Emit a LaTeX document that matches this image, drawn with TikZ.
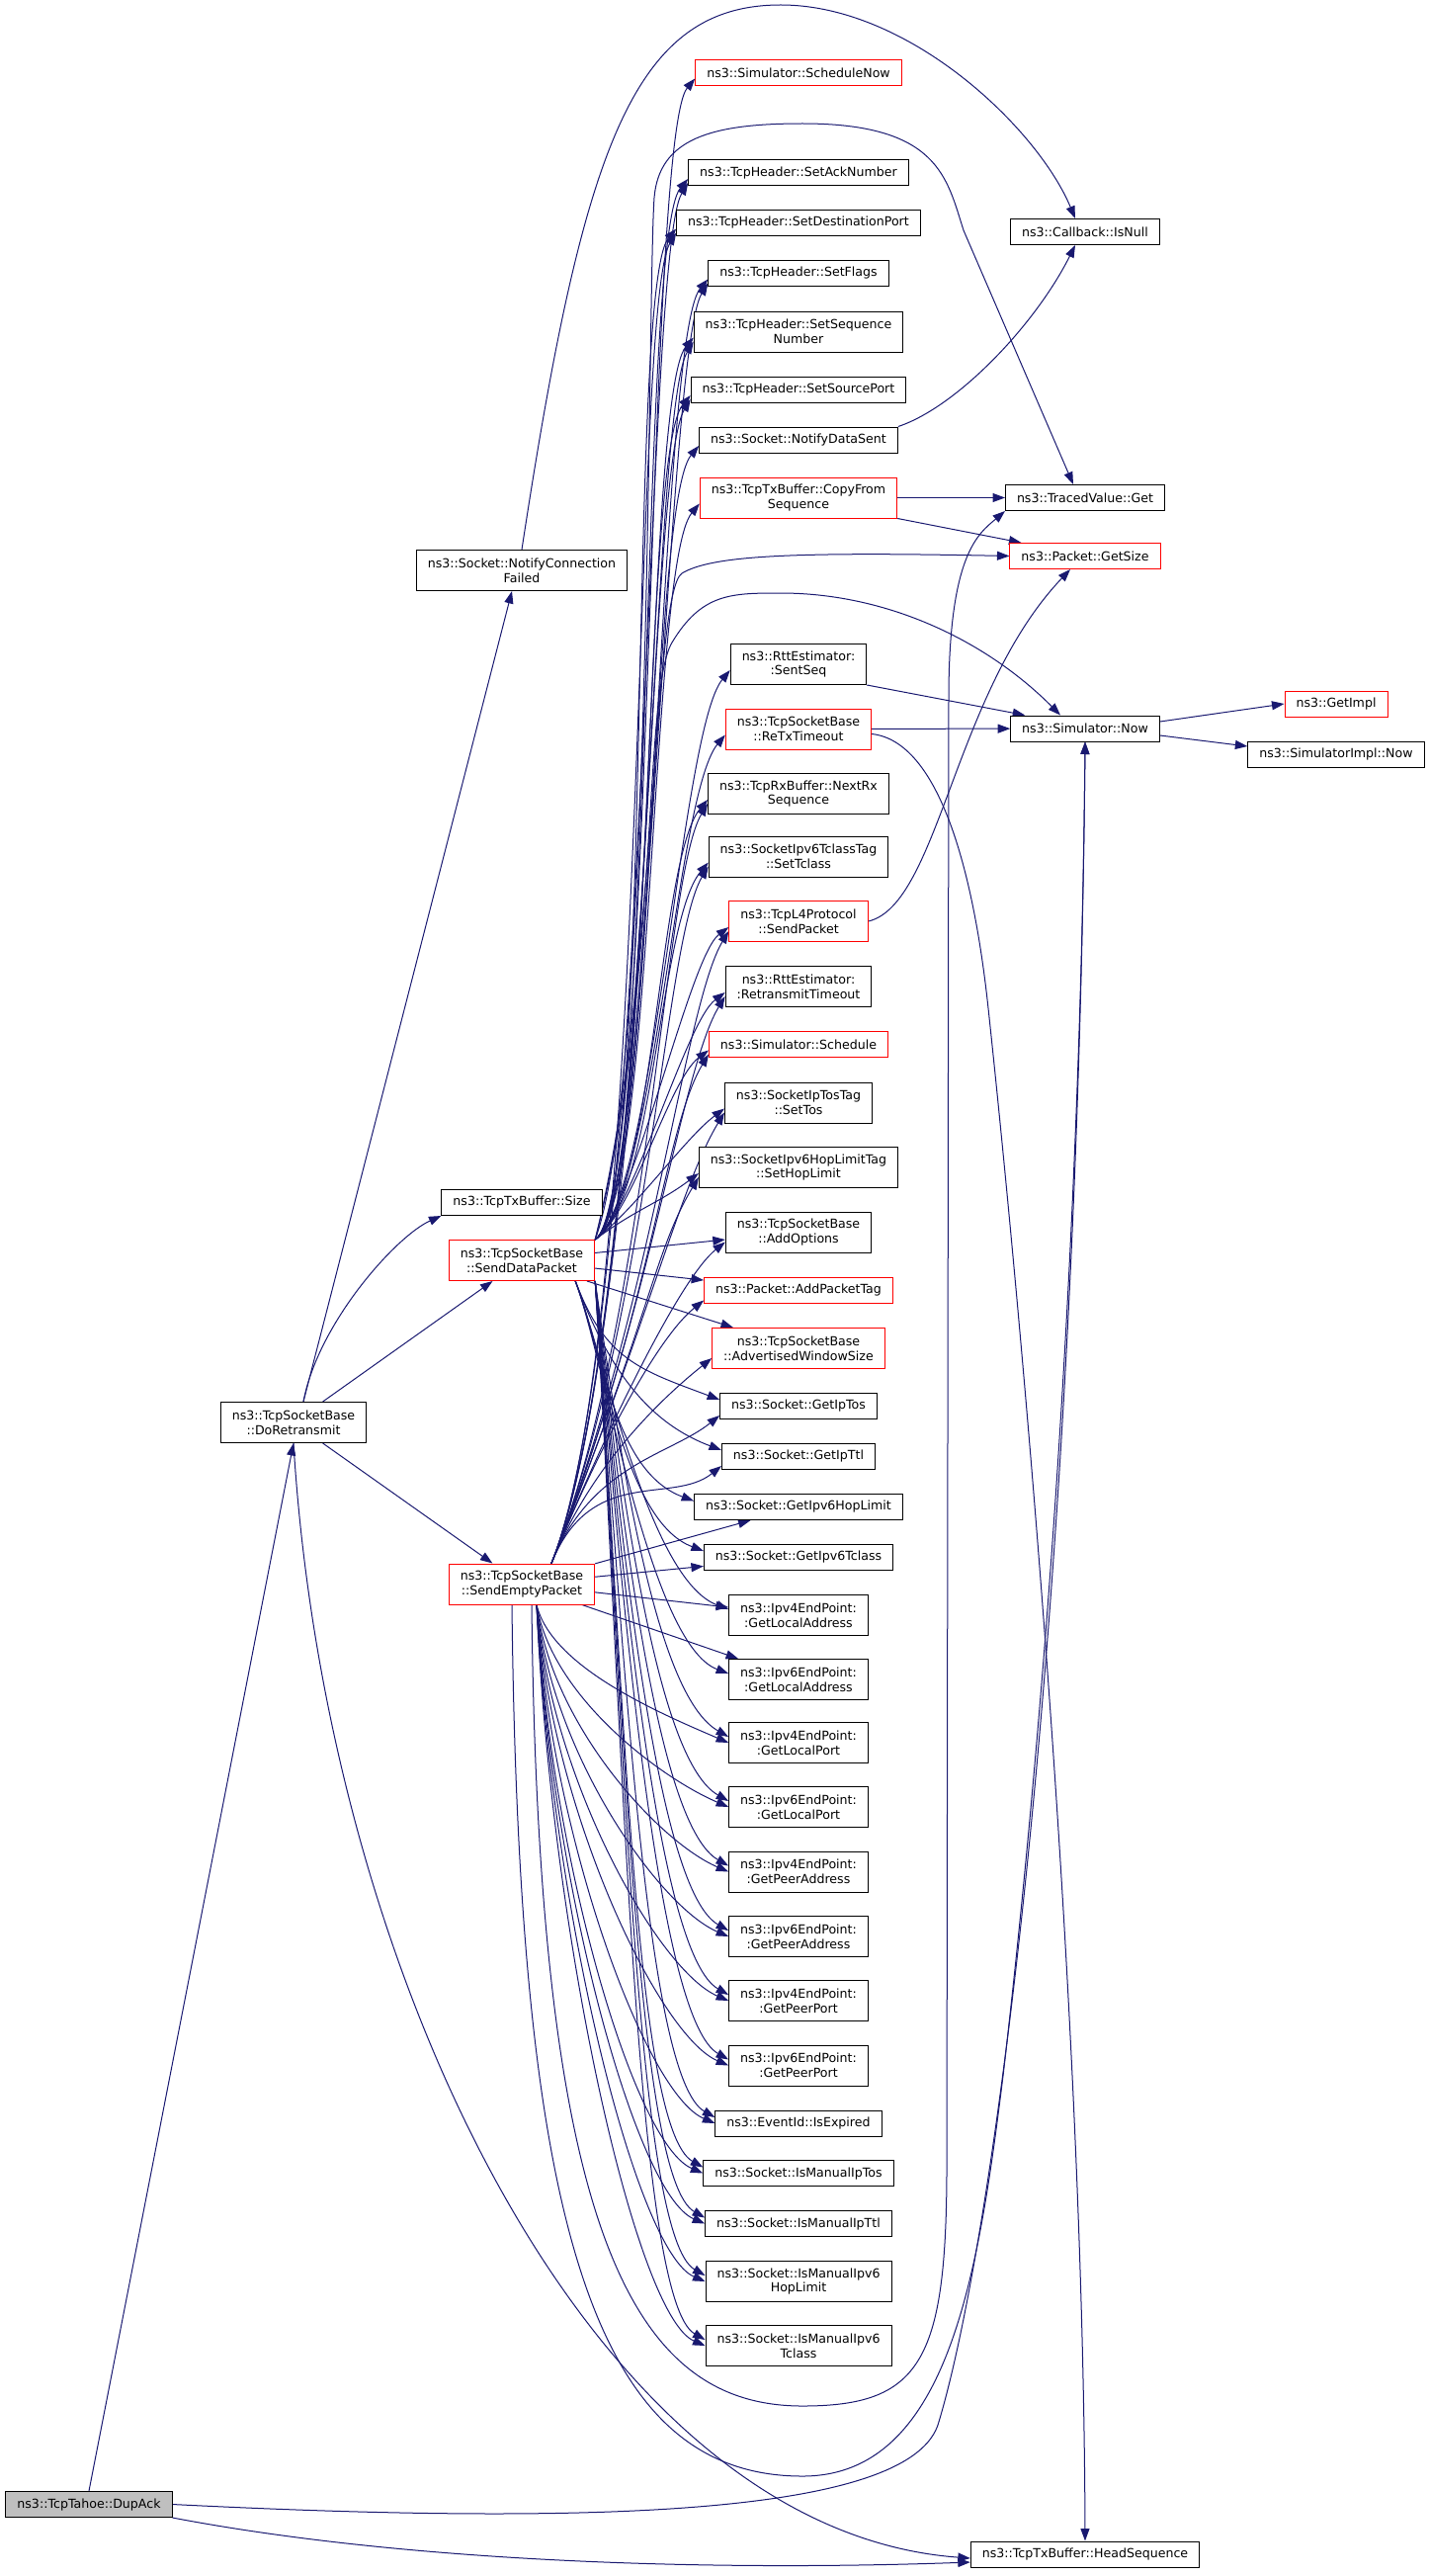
\documentclass[tikz,border=0pt]{standalone}
\usepackage{fontspec}
\setmainfont{DejaVu Sans}
\usetikzlibrary{arrows.meta,backgrounds}
\definecolor{edgeblue}{RGB}{25,25,112}
\definecolor{rootgray}{RGB}{191,191,191}
\tikzstyle{fn} = [rectangle, draw=black, fill=white, line width=1pt,
                 inner xsep=11.5pt, inner ysep=2pt, minimum height=26pt,
                 align=center, font=\fontsize{12.6}{14.7}\selectfont]
\tikzstyle{fnred} = [fn, draw=red]
\tikzstyle{fn2} = [fn, minimum height=41pt]
\tikzstyle{fnred2} = [fnred, minimum height=41pt]
\tikzstyle{root} = [fn, fill=rootgray]
\tikzstyle{call} = [draw=edgeblue, line width=1pt, -{Triangle[length=12.5pt,width=9pt]}]

\begin{document}
\begin{tikzpicture}[x=1pt,y=1pt]
\useasboundingbox (0,0) rectangle (1445,-2606);

\node [root] at (90,-2533.5) (dupack) {ns3::TcpTahoe::DupAck};
\node [fn2] at (297,-1439) (doretx) {ns3::TcpSocketBase\\::DoRetransmit};
\node [fn2] at (528,-577) (ncf) {ns3::Socket::NotifyConnection\\Failed};
\node [fn] at (528,-1216.5) (size) {ns3::TcpTxBuffer::Size};
\node [fnred2] at (528,-1275) (sdp) {ns3::TcpSocketBase\\::SendDataPacket};
\node [fnred2] at (528,-1602.5) (sep) {ns3::TcpSocketBase\\::SendEmptyPacket};

	%callees
\foreach \n/\y/\s/\txt in {schednow/73.5/fnred/{ns3::Simulator::ScheduleNow},
  setack/175/fn/{ns3::TcpHeader::SetAckNumber},
  setdport/225.5/fn/{ns3::TcpHeader::SetDestinationPort},
  setflags/276.5/fn/{ns3::TcpHeader::SetFlags},
  setseq/335.5/fn2/{ns3::TcpHeader::SetSequence\\Number},
  setsport/394/fn/{ns3::TcpHeader::SetSourcePort},
  notifysent/445/fn/{ns3::Socket::NotifyDataSent},
  copyfrom/503.5/fnred2/{ns3::TcpTxBuffer::CopyFrom\\Sequence},
  sentseq/672/fn2/{ns3::RttEstimator:\\:SentSeq},
  retxto/737.5/fnred2/{ns3::TcpSocketBase\\::ReTxTimeout},
  nextrx/803/fn2/{ns3::TcpRxBuffer::NextRx\\Sequence},
  settclass/866.5/fn2/{ns3::SocketIpv6TclassTag\\::SetTclass},
  sendpkt/932/fnred2/{ns3::TcpL4Protocol\\::SendPacket},
  rtxtimeout/998/fn2/{ns3::RttEstimator:\\:RetransmitTimeout},
  sched/1056.5/fnred/{ns3::Simulator::Schedule},
  settos/1115.5/fn2/{ns3::SocketIpTosTag\\::SetTos},
  sethop/1181/fn2/{ns3::SocketIpv6HopLimitTag\\::SetHopLimit},
  addopt/1246.5/fn2/{ns3::TcpSocketBase\\::AddOptions},
  addtag/1305.5/fnred/{ns3::Packet::AddPacketTag},
  advwin/1364/fnred2/{ns3::TcpSocketBase\\::AdvertisedWindowSize},
  getiptos/1422/fn/{ns3::Socket::GetIpTos},
  getipttl/1473/fn/{ns3::Socket::GetIpTtl},
  gethop/1524.5/fn/{ns3::Socket::GetIpv6HopLimit},
  getv6tc/1575/fn/{ns3::Socket::GetIpv6Tclass},
  v4locaddr/1634/fn2/{ns3::Ipv4EndPoint:\\:GetLocalAddress},
  v6locaddr/1699/fn2/{ns3::Ipv6EndPoint:\\:GetLocalAddress},
  v4locport/1763/fn2/{ns3::Ipv4EndPoint:\\:GetLocalPort},
  v6locport/1828/fn2/{ns3::Ipv6EndPoint:\\:GetLocalPort},
  v4peeraddr/1893.5/fn2/{ns3::Ipv4EndPoint:\\:GetPeerAddress},
  v6peeraddr/1959/fn2/{ns3::Ipv6EndPoint:\\:GetPeerAddress},
  v4peerport/2024/fn2/{ns3::Ipv4EndPoint:\\:GetPeerPort},
  v6peerport/2089.5/fn2/{ns3::Ipv6EndPoint:\\:GetPeerPort},
  isexpired/2148/fn/{ns3::EventId::IsExpired},
  manualtos/2198.5/fn/{ns3::Socket::IsManualIpTos},
  manualttl/2249.5/fn/{ns3::Socket::IsManualIpTtl},
  manualhop/2308/fn2/{ns3::Socket::IsManualIpv6\\HopLimit},
  manualtc/2373/fn2/{ns3::Socket::IsManualIpv6\\Tclass}}
	\node [\s] at (808,-\y) (\n) {\txt};

\node [fn] at (1098,-234.5) (isnull) {ns3::Callback::IsNull};
\node [fn] at (1098,-503.5) (tvget) {ns3::TracedValue::Get};
\node [fnred] at (1098,-562.5) (getsize) {ns3::Packet::GetSize};
\node [fn] at (1098,-737) (simnow) {ns3::Simulator::Now};
\node [fnred] at (1352,-712) (getimpl) {ns3::GetImpl};
\node [fn] at (1352,-763) (implnow) {ns3::SimulatorImpl::Now};
\node [fn] at (1098,-2584) (headseq) {ns3::TcpTxBuffer::HeadSequence};

\begin{pgfonlayer}{background}
\draw [call] (dupack.north) -- (doretx.south);
\draw [call] (dupack.south east) .. controls (400,-2590) and (700,-2602) .. ([yshift=-8pt]headseq.west);
\draw [call] (dupack.east) .. controls (600,-2555) and (925,-2545) .. (950,-2450)
	.. controls (1010,-2250) and (1090,-1600) .. (simnow.south);

\draw [call] (doretx) -- (sdp);
\draw [call] (doretx) -- (sep);
\draw [call] ([xshift=10pt]doretx.north) -- ([xshift=-10pt]ncf.south);
\draw [call] ([xshift=10pt]doretx.north) .. controls +(15,80) and +(-45,-20) .. (size.south west);
\draw [call] (doretx.south) .. controls (330,-2000) and (600,-2560) .. ([yshift=-4pt]headseq.west);

\draw [call] (ncf.north) .. controls (590,-150) and (640,-5) .. (790,-5)
	.. controls (920,-5) and (1050,-130) .. ([xshift=-10pt]isnull.north);
\draw [call] (notifysent.north east) .. controls +(60,20) and +(-40,-80) .. ([xshift=-10pt]isnull.south);
\draw [call] (copyfrom) -- (tvget);
\draw [call] (copyfrom.south east) -- ([xshift=12pt]getsize.north west);
\draw [call] (sendpkt.east) .. controls (950,-915) and (965,-700) .. ([xshift=-15pt]getsize.south);
\draw [call] (sentseq.south east) -- ([xshift=15pt]simnow.north west);
\draw [call] (retxto) -- (simnow);
\draw [call] ([yshift=-5pt]retxto.east) .. controls (950,-750) and (985,-880) .. (1000,-1020)
	.. controls (1030,-1300) and (1096,-2000) .. (headseq.north);
\draw [call] ([yshift=7pt]simnow.east) -- (getimpl.west);
\draw [call] ([yshift=-7pt]simnow.east) -- ([yshift=8pt]implnow.west);

	%arcs over the callees
\draw [call] (sdp.north east) .. controls (660,-1100) and (655,-300) .. (662,-200)
	.. controls (667,-140) and (720,-125) .. (812,-125)
	.. controls (950,-125) and (958,-180) .. (975,-233) -- ([xshift=-12pt]tvget.north);
\draw [call] (sdp.north east) .. controls (665,-1000) and (660,-600) .. (690,-580)
	.. controls (720,-562) and (800,-558) .. (getsize.west);
\draw [call] (sdp.north east) .. controls (668,-1000) and (650,-700) .. (680,-650)
	.. controls (710,-600) and (740,-600) .. (790,-600)
	.. controls (900,-600) and (1000,-650) .. ([xshift=-25pt]simnow.north);

	%loops under the callees
\draw [call] ([xshift=10pt]sep.south) .. controls (545,-2260) and (640,-2434) .. (812,-2434)
	.. controls (930,-2434) and (957,-2390) .. (958,-2200) -- (960,-700)
	.. controls (961,-560) and (990,-540) .. (tvget.south west);
\draw [call] ([xshift=-10pt]sep.south) .. controls (525,-2250) and (600,-2505) .. (812,-2505)
	.. controls (960,-2505) and (990,-2300) .. (1015,-2100)
	.. controls (1050,-1800) and (1093,-1300) .. (simnow.south);

	%SendDataPacket
\foreach \t in {schednow,setack,setdport,setflags,setseq,setsport,notifysent,copyfrom,sentseq,retxto,nextrx,settclass}
	\draw [call] (sdp.north east) .. controls +(60,40) and +(-50,-60) .. ([yshift=-6pt]\t.west);
\foreach \t in {sendpkt,rtxtimeout,sched,settos,sethop}
	\draw [call] (sdp.north east) .. controls +(40,30) and +(-40,-30) .. ([yshift=-6pt]\t.west);
\foreach \t in {addopt,addtag,advwin}
	\draw [call] (sdp) -- (\t);
\foreach \t in {getiptos,getipttl,gethop,getv6tc,v4locaddr,v6locaddr}
	\draw [call] ([xshift=-20pt]sdp.south east) .. controls +(30,-80) and +(-80,30) .. ([yshift=6pt]\t.west);

	%SendEmptyPacket
\foreach \t in {setack,setdport,setflags,setseq,setsport,nextrx,settclass,sendpkt,rtxtimeout,sched,settos,sethop}
	\draw [call] ([xshift=30pt]sep.north) .. controls +(100,250) and +(-45,-75) .. ([yshift=-10pt]\t.west);
\foreach \t in {addopt,addtag,advwin,getiptos,getipttl}
	\draw [call] ([xshift=30pt]sep.north) .. controls +(40,100) and +(-50,-40) .. ([yshift=-10pt]\t.west);
\foreach \t in {gethop,getv6tc,v4locaddr,v6locaddr}
	\draw [call] (sep) -- (\t);

	%both senders, lower block
\foreach \t/\d in {v4locport/63,v6locport/92,v4peeraddr/122,v6peeraddr/151,v4peerport/180,v6peerport/210,isexpired/236,manualtos/259,manualttl/282,manualhop/308,manualtc/338}{
	\draw [call] (sdp.south east) .. controls +(30,-\d-150) and +(-70,40) .. ([yshift=6pt]\t.west);
	\draw [call] ([xshift=15pt]sep.south) .. controls +(15,-\d) and +(-70,30) .. (\t.west);
}
\end{pgfonlayer}

\end{tikzpicture}
\end{document}
